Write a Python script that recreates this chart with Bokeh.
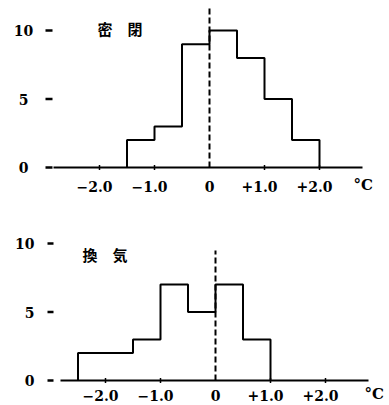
import numpy as np
from bokeh.plotting import figure
from bokeh.layouts import column
from bokeh.embed import file_html
from bokeh.resources import INLINE
from bokeh.core.properties import value

# ---- data ----
closed_edges = [-1.5, -1.0, -0.5, 0.0, 0.5, 1.0, 1.5, 2.0]
closed_counts = [2, 3, 9, 10, 8, 5, 2]
vent_edges = [-2.5, -2.0, -1.5, -1.0, -0.5, 0.0, 0.5, 1.0]
vent_counts = [2, 2, 3, 7, 5, 7, 3]
x_ticks = [-2.0, -1.0, 0.0, 1.0, 2.0]
x_tick_labels = ["−2.0", "−1.0", "0", "+1.0", "+2.0"]
y_ticks = [0, 5, 10]
y_tick_labels = ["0", "5", "10"]
panel_titles = ["密　閉", "換　気"]
unit_label = "°C"

SERIF = "DejaVu Serif"
CJK = "Noto Sans CJK JP"
W = 389


def step_path(edges, counts):
    xs, ys = [edges[0]], [0]
    for i, c in enumerate(counts):
        xs += [edges[i], edges[i + 1]]
        ys += [c, c]
    xs.append(edges[-1])
    ys.append(0)
    return xs, ys


def make_panel(edges, counts, title, cfg):
    x0, xs, y0, ys, h = cfg["x0"], cfg["xs"], cfg["y0"], cfg["ys"], cfg["h"]

    def X(px):
        return (px - x0) / xs

    def Y(py):
        return (y0 - py) / ys

    p = figure(width=W, height=h, x_range=(X(0), X(W)), y_range=(Y(h), Y(0)),
               output_backend="svg", toolbar_location=None,
               x_axis_location=None, y_axis_location=None,
               min_border=0)
    p.outline_line_color = None
    p.grid.visible = False
    p.background_fill_color = "white"
    p.border_fill_color = "white"

    # x axis baseline and ticks
    p.segment(x0=[X(cfg["ax_l"])], y0=[0], x1=[X(cfg["ax_r"])], y1=[0],
              line_color="black", line_width=2)
    p.scatter(x=[t for t in x_ticks if t != 0], y=0, marker="dash",
              angle=np.pi / 2, size=5, line_width=1.5, line_color="black")
    offs = [-5 if l[0] in "−+" else 0 for l in x_tick_labels]
    p.text(x=x_ticks, y=[0] * len(x_ticks), text=x_tick_labels,
           x_offset=offs, y_offset=cfg["xl_dy"],
           text_font=value(SERIF), text_font_style="bold",
           text_font_size="14px", text_align="center",
           text_baseline="middle", text_color="black")
    # unit
    p.text(x=[X(cfg["unit_px"])], y=[0], text=[unit_label],
           y_offset=cfg["xl_dy"] - 1,
           text_font=value(SERIF), text_font_style="bold",
           text_font_size="15px", text_align="left",
           text_baseline="middle", text_color="black")

    # y ticks (short dashes) and labels
    p.segment(x0=[X(cfg["yt_l"])] * len(y_ticks), y0=y_ticks,
              x1=[X(cfg["yt_r"])] * len(y_ticks), y1=y_ticks,
              line_color="black", line_width=2.5)
    p.text(x=[X(cfg["yl_px"])] * len(y_ticks), y=y_ticks, text=y_tick_labels,
           text_font=value(SERIF), text_font_style="bold",
           text_font_size="14px", text_align=cfg["yl_align"],
           text_baseline="middle", text_color="black")

    # histogram outline
    hx, hy = step_path(edges, counts)
    p.line(hx, hy, line_color="black", line_width=2)

    # dashed zero line
    p.segment(x0=[0], y0=[0], x1=[0], y1=[Y(cfg["dash_top"])],
              line_color="black", line_width=2, line_dash="6 3")

    # title
    p.text(x=[X(cfg["title_px"])], y=[Y(cfg["title_py"])], text=[title],
           text_font=value(CJK), text_font_style="bold",
           text_font_size="15px", text_align="left",
           text_baseline="middle", text_color="black")
    return p


top_cfg = dict(x0=209, xs=55, y0=167, ys=13.7, h=204,
               ax_l=53, ax_r=362, xl_dy=18.5, unit_px=353,
               yt_l=45, yt_r=52, yl_px=23, yl_align="center",
               dash_top=8, title_px=97, title_py=28)
bot_cfg = dict(x0=215, xs=55, y0=176, ys=13.7, h=201,
               ax_l=60, ax_r=368, xl_dy=14.5, unit_px=364,
               yt_l=47, yt_r=53, yl_px=34, yl_align="right",
               dash_top=46, title_px=82, title_py=50)

top = make_panel(closed_edges, closed_counts, panel_titles[0], top_cfg)
bottom = make_panel(vent_edges, vent_counts, panel_titles[1], bot_cfg)

layout = column(top, bottom, spacing=0)
open("out.html", "w").write(file_html(layout, INLINE))
